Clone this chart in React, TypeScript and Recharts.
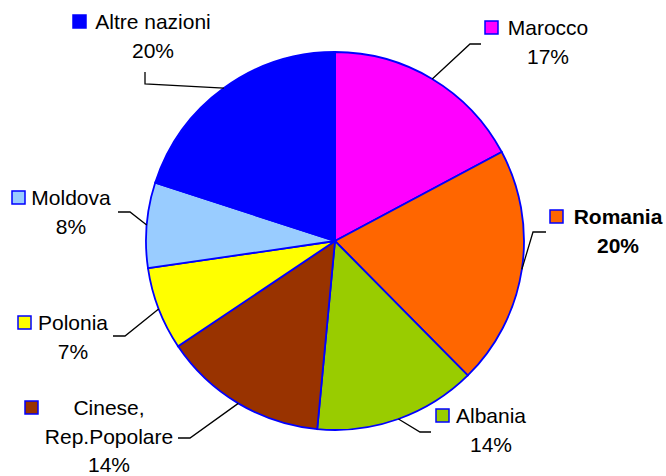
import React from 'react';
import { PieChart, Pie, Cell } from 'recharts';

const NAMES = ['Marocco', 'Romania', 'Albania', 'Cinese, Rep.Popolare', 'Polonia', 'Moldova', 'Altre nazioni'];
const NAME_LINES = [['Marocco'], ['Romania'], ['Albania'], ['Cinese,', 'Rep.Popolare'], ['Polonia'], ['Moldova'], ['Altre nazioni']];
// slice shares
const VALUES = [17.2, 20.4, 13.9, 14.1, 7.1, 7.3, 20.0];
// percentage labels as printed on the reference
const PCT_LABELS = ['17%', '20%', '14%', '14%', '7%', '8%', '20%'];
const COLORS = ['#FF00FF', '#FF6600', '#99CC00', '#993300', '#FFFF00', '#99CCFF', '#0000FF'];
const BOLD = [false, true, false, false, false, false, false];

// label layout: leader elbow, leader end, text center x, first baseline y, legend box x, line height
const LABEL_LAYOUT = [
  { elbow: [470, 44], end: [481, 44], tx: 548, ty: 35, bx: 485, lh: 29 },
  { elbow: [533, 232], end: [546, 232], tx: 618, ty: 224, bx: 550, lh: 29 },
  { elbow: [420, 432], end: [431, 432], tx: 491, ty: 423, bx: 436, lh: 29 },
  { elbow: [190, 438], end: [178, 438], tx: 109, ty: 415, bx: 25, lh: 28.5 },
  { elbow: [125, 336], end: [113, 336], tx: 73, ty: 330, bx: 18, lh: 29 },
  { elbow: [130, 212], end: [118, 212], tx: 71, ty: 205, bx: 12, lh: 29 },
  { elbow: [145, 84], end: [145, 72], tx: 153, ty: 29, bx: 73, lh: 29 },
];

const data = NAMES.map((name, i) => ({ name, value: VALUES[i] }));
const RAD = Math.PI / 180;
const FONT = '"Liberation Sans", Arial, Helvetica, sans-serif';

const renderLabel = (props: any) => {
  const { cx, cy, midAngle, outerRadius, index } = props;
  const L = LABEL_LAYOUT[index];
  const sx = cx + Math.cos(-midAngle * RAD) * outerRadius;
  const sy = cy + Math.sin(-midAngle * RAD) * outerRadius;
  const lines = NAME_LINES[index];
  const bold = BOLD[index];
  return (
    <g key={`lbl-${index}`}>
      <polyline
        points={`${sx},${sy} ${L.elbow[0]},${L.elbow[1]} ${L.end[0]},${L.end[1]}`}
        fill="none"
        stroke="#000"
        strokeWidth={1.3}
      />
      <rect x={L.bx} y={L.ty - 14} width={13} height={13} fill={COLORS[index]} stroke="#0000FF" strokeWidth={1.5} />
      {lines.map((ln, j) => (
        <text
          key={j}
          x={L.tx}
          y={L.ty + j * L.lh}
          textAnchor="middle"
          fontFamily={FONT}
          fontSize={21}
          fontWeight={bold ? 'bold' : 'normal'}
          fill="#000"
        >
          {ln}
        </text>
      ))}
      <text
        x={L.tx}
        y={L.ty + lines.length * L.lh}
        textAnchor="middle"
        fontFamily={FONT}
        fontSize={21}
        fontWeight={bold ? 'bold' : 'normal'}
        fill="#000"
      >
        {PCT_LABELS[index]}
      </text>
    </g>
  );
};

export default function App() {
  return (
    <div style={{ position: 'absolute', left: 0, top: 0, width: 666, height: 476, background: '#fff' }}>
      <PieChart width={666} height={476} margin={{ top: 0, right: 0, bottom: 0, left: 0 }}>
        <Pie
          data={data}
          dataKey="value"
          nameKey="name"
          cx={335}
          cy={241}
          outerRadius={189}
          startAngle={90}
          endAngle={-270}
          stroke="#0000FF"
          strokeWidth={1.8}
          label={renderLabel}
          labelLine={false}
          isAnimationActive={false}
        >
          {data.map((d, i) => (
            <Cell key={d.name} fill={COLORS[i]} />
          ))}
        </Pie>
      </PieChart>
    </div>
  );
}
